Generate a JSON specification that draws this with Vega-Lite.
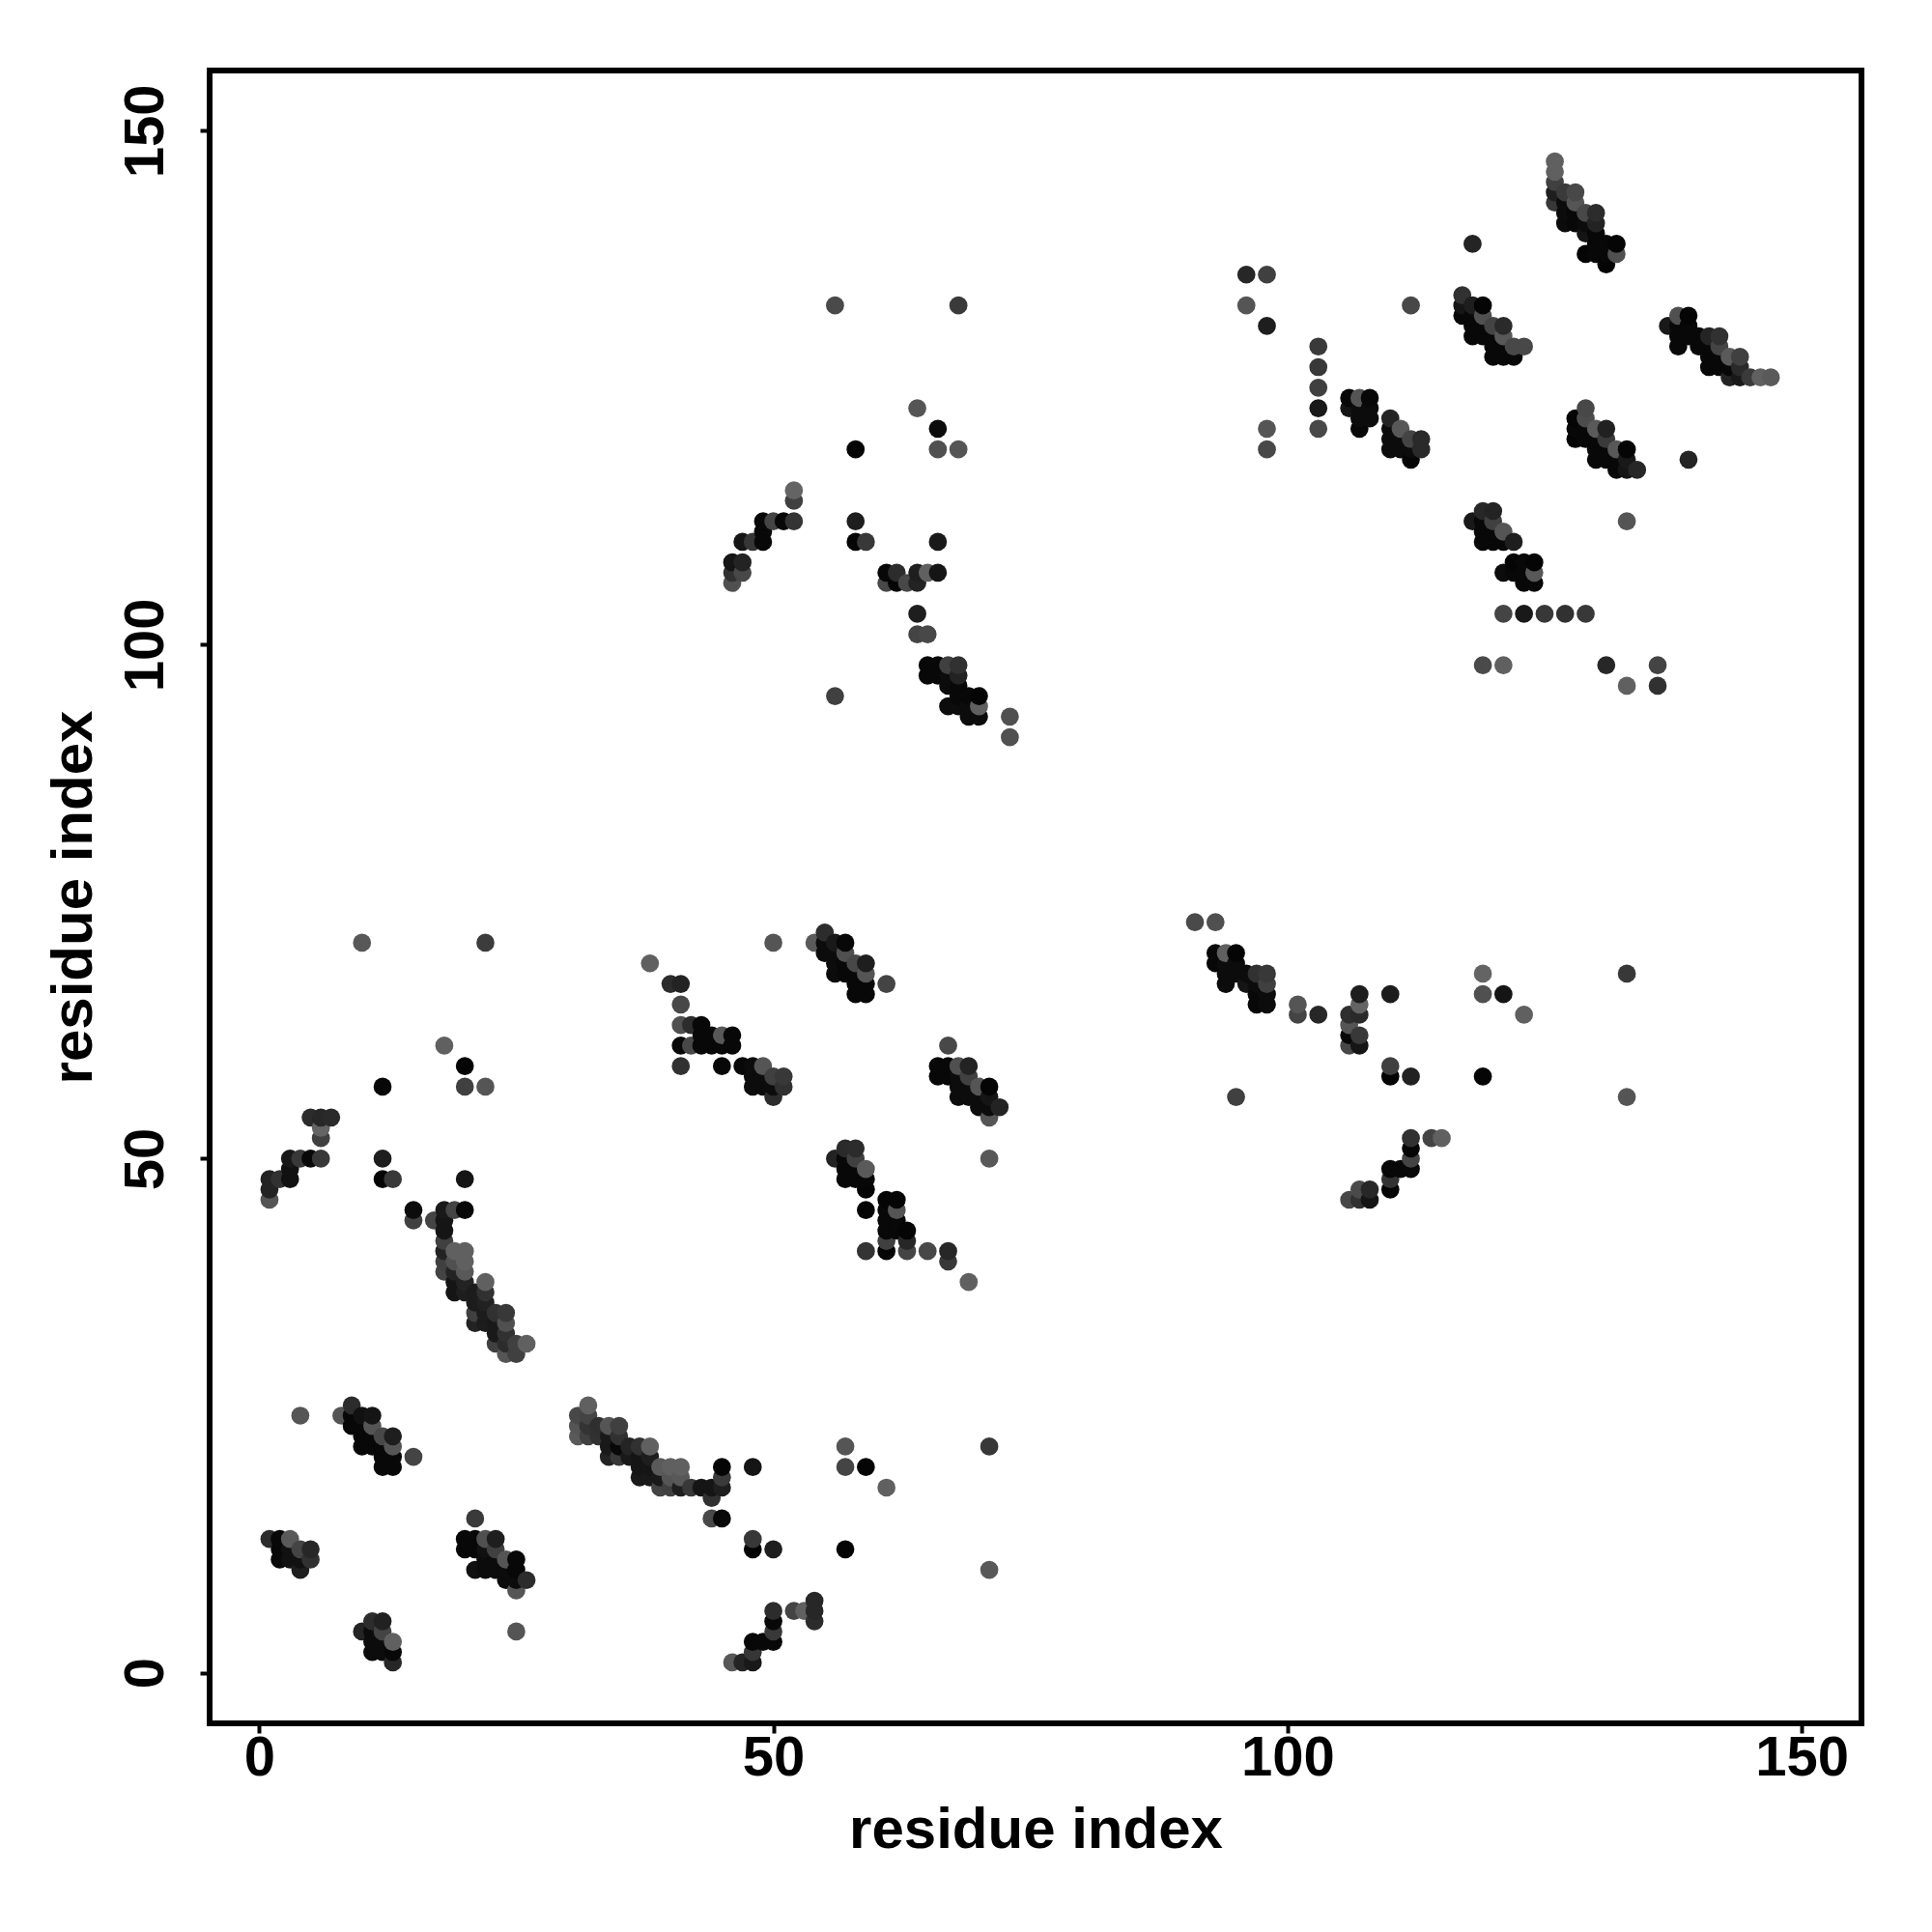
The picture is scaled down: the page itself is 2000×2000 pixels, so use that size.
{"$schema":"https://vega.github.io/schema/vega-lite/v6.json","width":1710,"height":1711,"autosize":{"type":"none"},"padding":{"left":217,"top":73,"right":73,"bottom":216},"background":"white","view":{"stroke":"#000000","strokeWidth":6,"fill":"white"},
"data":{"values":[
{"x":1,"y":13,"v":42},{"x":1,"y":46,"v":85},{"x":1,"y":47,"v":32},{"x":1,"y":48,"v":32},
{"x":2,"y":11,"v":5},{"x":2,"y":12,"v":5},{"x":2,"y":13,"v":5},{"x":2,"y":48,"v":48},
{"x":3,"y":11,"v":12},{"x":3,"y":12,"v":12},{"x":3,"y":13,"v":90},{"x":3,"y":48,"v":12},{"x":3,"y":49,"v":12},{"x":3,"y":50,"v":20},
{"x":4,"y":10,"v":26},{"x":4,"y":11,"v":12},{"x":4,"y":12,"v":68},{"x":4,"y":25,"v":85},{"x":4,"y":50,"v":56},
{"x":5,"y":11,"v":48},{"x":5,"y":12,"v":37},{"x":5,"y":50,"v":5},{"x":5,"y":54,"v":42},
{"x":6,"y":50,"v":56},{"x":6,"y":52,"v":64},{"x":6,"y":53,"v":100},{"x":6,"y":54,"v":37},
{"x":7,"y":54,"v":40},{"x":8,"y":25,"v":85},
{"x":9,"y":24,"v":5},{"x":9,"y":25,"v":5},{"x":9,"y":26,"v":42},
{"x":10,"y":4,"v":34},{"x":10,"y":22,"v":5},{"x":10,"y":23,"v":5},{"x":10,"y":24,"v":5},{"x":10,"y":25,"v":12},{"x":10,"y":71,"v":88},
{"x":11,"y":2,"v":8},{"x":11,"y":3,"v":8},{"x":11,"y":4,"v":8},{"x":11,"y":5,"v":42},{"x":11,"y":22,"v":5},{"x":11,"y":23,"v":5},{"x":11,"y":24,"v":85},{"x":11,"y":25,"v":16},
{"x":12,"y":2,"v":8},{"x":12,"y":3,"v":8},{"x":12,"y":4,"v":68},{"x":12,"y":5,"v":30},{"x":12,"y":20,"v":5},{"x":12,"y":21,"v":5},{"x":12,"y":22,"v":5},{"x":12,"y":23,"v":72},{"x":12,"y":48,"v":3},{"x":12,"y":50,"v":26},{"x":12,"y":57,"v":5},
{"x":13,"y":1,"v":37},{"x":13,"y":2,"v":5},{"x":13,"y":3,"v":96},{"x":13,"y":20,"v":5},{"x":13,"y":21,"v":5},{"x":13,"y":22,"v":85},{"x":13,"y":23,"v":26},{"x":13,"y":48,"v":56},
{"x":15,"y":21,"v":68},{"x":15,"y":44,"v":64},{"x":15,"y":45,"v":8},{"x":17,"y":44,"v":68},
{"x":18,"y":39,"v":68},{"x":18,"y":40,"v":64},{"x":18,"y":41,"v":32},{"x":18,"y":42,"v":64},{"x":18,"y":43,"v":16},{"x":18,"y":44,"v":16},{"x":18,"y":45,"v":21},{"x":18,"y":61,"v":96},
{"x":19,"y":37,"v":16},{"x":19,"y":38,"v":16},{"x":19,"y":39,"v":32},{"x":19,"y":40,"v":80},{"x":19,"y":41,"v":96},{"x":19,"y":45,"v":68},
{"x":20,"y":12,"v":5},{"x":20,"y":13,"v":5},{"x":20,"y":37,"v":26},{"x":20,"y":38,"v":32},{"x":20,"y":39,"v":88},{"x":20,"y":40,"v":96},{"x":20,"y":41,"v":96},{"x":20,"y":45,"v":5},{"x":20,"y":48,"v":16},{"x":20,"y":57,"v":64},{"x":20,"y":59,"v":3},
{"x":21,"y":10,"v":12},{"x":21,"y":12,"v":5},{"x":21,"y":13,"v":5},{"x":21,"y":15,"v":58},{"x":21,"y":34,"v":32},{"x":21,"y":35,"v":64},{"x":21,"y":36,"v":24},{"x":21,"y":37,"v":24},
{"x":22,"y":10,"v":8},{"x":22,"y":11,"v":8},{"x":22,"y":12,"v":12},{"x":22,"y":13,"v":80},{"x":22,"y":34,"v":24},{"x":22,"y":35,"v":24},{"x":22,"y":36,"v":30},{"x":22,"y":37,"v":48},{"x":22,"y":38,"v":96},{"x":22,"y":57,"v":85},{"x":22,"y":71,"v":60},
{"x":23,"y":10,"v":8},{"x":23,"y":11,"v":8},{"x":23,"y":12,"v":64},{"x":23,"y":13,"v":26},{"x":23,"y":32,"v":64},{"x":23,"y":33,"v":21},{"x":23,"y":34,"v":21},{"x":23,"y":35,"v":48},
{"x":24,"y":9,"v":8},{"x":24,"y":10,"v":8},{"x":24,"y":11,"v":85},{"x":24,"y":31,"v":85},{"x":24,"y":32,"v":42},{"x":24,"y":33,"v":48},{"x":24,"y":34,"v":80},{"x":24,"y":35,"v":56},
{"x":25,"y":4,"v":85},{"x":25,"y":8,"v":85},{"x":25,"y":9,"v":8},{"x":25,"y":10,"v":5},{"x":25,"y":11,"v":5},{"x":25,"y":31,"v":64},{"x":25,"y":32,"v":64},
{"x":26,"y":9,"v":42},{"x":26,"y":32,"v":96},
{"x":31,"y":23,"v":90},{"x":31,"y":24,"v":85},{"x":31,"y":25,"v":72},
{"x":32,"y":23,"v":64},{"x":32,"y":24,"v":51},{"x":32,"y":25,"v":68},{"x":32,"y":26,"v":96},
{"x":33,"y":23,"v":48},{"x":33,"y":24,"v":46},
{"x":34,"y":21,"v":32},{"x":34,"y":22,"v":21},{"x":34,"y":23,"v":21},{"x":34,"y":24,"v":85},
{"x":35,"y":21,"v":56},{"x":35,"y":22,"v":5},{"x":35,"y":23,"v":48},{"x":35,"y":24,"v":64},
{"x":36,"y":21,"v":21},{"x":36,"y":22,"v":34},
{"x":37,"y":19,"v":21},{"x":37,"y":20,"v":16},{"x":37,"y":21,"v":16},{"x":37,"y":22,"v":48},
{"x":38,"y":19,"v":21},{"x":38,"y":20,"v":16},{"x":38,"y":21,"v":26},{"x":38,"y":22,"v":96},{"x":38,"y":69,"v":96},
{"x":39,"y":18,"v":68},{"x":39,"y":19,"v":21},{"x":39,"y":20,"v":90},
{"x":40,"y":18,"v":64},{"x":40,"y":19,"v":85},{"x":40,"y":20,"v":96},{"x":40,"y":67,"v":42},
{"x":41,"y":18,"v":26},{"x":41,"y":19,"v":88},{"x":41,"y":20,"v":96},{"x":41,"y":59,"v":48},{"x":41,"y":61,"v":5},{"x":41,"y":63,"v":80},{"x":41,"y":65,"v":72},{"x":41,"y":67,"v":32},
{"x":42,"y":18,"v":56},{"x":42,"y":61,"v":72},{"x":42,"y":63,"v":42},
{"x":43,"y":18,"v":16},{"x":43,"y":61,"v":5},{"x":43,"y":62,"v":5},{"x":43,"y":63,"v":5},
{"x":44,"y":15,"v":72},{"x":44,"y":17,"v":48},{"x":44,"y":18,"v":16},{"x":44,"y":61,"v":5},{"x":44,"y":62,"v":5},
{"x":45,"y":15,"v":5},{"x":45,"y":18,"v":26},{"x":45,"y":19,"v":58},{"x":45,"y":20,"v":3},{"x":45,"y":59,"v":5},{"x":45,"y":61,"v":5},{"x":45,"y":62,"v":88},
{"x":46,"y":1,"v":88},{"x":46,"y":61,"v":5},{"x":46,"y":62,"v":5},{"x":46,"y":106,"v":80},{"x":46,"y":107,"v":48},{"x":46,"y":108,"v":16},
{"x":47,"y":1,"v":34},{"x":47,"y":59,"v":5},{"x":47,"y":107,"v":72},{"x":47,"y":108,"v":32},{"x":47,"y":110,"v":16},
{"x":48,"y":1,"v":21},{"x":48,"y":2,"v":53},{"x":48,"y":3,"v":5},{"x":48,"y":12,"v":3},{"x":48,"y":13,"v":56},{"x":48,"y":20,"v":16},{"x":48,"y":57,"v":8},{"x":48,"y":58,"v":8},{"x":48,"y":59,"v":8},{"x":48,"y":110,"v":53},
{"x":49,"y":3,"v":5},{"x":49,"y":57,"v":8},{"x":49,"y":58,"v":8},{"x":49,"y":59,"v":85},{"x":49,"y":110,"v":5},{"x":49,"y":111,"v":5},{"x":49,"y":112,"v":5},
{"x":50,"y":3,"v":5},{"x":50,"y":4,"v":56},{"x":50,"y":5,"v":5},{"x":50,"y":6,"v":42},{"x":50,"y":12,"v":26},{"x":50,"y":56,"v":42},{"x":50,"y":57,"v":8},{"x":50,"y":58,"v":64},{"x":50,"y":71,"v":85},{"x":50,"y":112,"v":68},
{"x":51,"y":57,"v":48},{"x":51,"y":58,"v":56},{"x":51,"y":112,"v":5},
{"x":52,"y":6,"v":68},{"x":52,"y":112,"v":51},{"x":52,"y":114,"v":64},{"x":52,"y":115,"v":100},
{"x":53,"y":6,"v":96},
{"x":54,"y":5,"v":42},{"x":54,"y":6,"v":37},{"x":54,"y":7,"v":37},{"x":54,"y":71,"v":90},
{"x":55,"y":70,"v":8},{"x":55,"y":71,"v":8},{"x":55,"y":72,"v":42},
{"x":56,"y":50,"v":32},{"x":56,"y":68,"v":8},{"x":56,"y":69,"v":8},{"x":56,"y":70,"v":8},{"x":56,"y":71,"v":21},{"x":56,"y":95,"v":64},{"x":56,"y":133,"v":74},
{"x":57,"y":12,"v":3},{"x":57,"y":20,"v":68},{"x":57,"y":22,"v":85},{"x":57,"y":48,"v":5},{"x":57,"y":49,"v":5},{"x":57,"y":50,"v":5},{"x":57,"y":51,"v":40},{"x":57,"y":68,"v":5},{"x":57,"y":69,"v":5},{"x":57,"y":70,"v":80},{"x":57,"y":71,"v":5},
{"x":58,"y":48,"v":5},{"x":58,"y":49,"v":5},{"x":58,"y":50,"v":64},{"x":58,"y":51,"v":42},{"x":58,"y":66,"v":5},{"x":58,"y":67,"v":5},{"x":58,"y":68,"v":5},{"x":58,"y":69,"v":72},{"x":58,"y":110,"v":3},{"x":58,"y":112,"v":26},{"x":58,"y":119,"v":3},
{"x":59,"y":20,"v":3},{"x":59,"y":41,"v":51},{"x":59,"y":45,"v":3},{"x":59,"y":47,"v":3},{"x":59,"y":48,"v":5},{"x":59,"y":49,"v":90},{"x":59,"y":66,"v":5},{"x":59,"y":67,"v":5},{"x":59,"y":68,"v":85},{"x":59,"y":69,"v":26},{"x":59,"y":110,"v":56},
{"x":61,"y":18,"v":96},{"x":61,"y":41,"v":3},{"x":61,"y":42,"v":64},{"x":61,"y":43,"v":5},{"x":61,"y":44,"v":5},{"x":61,"y":45,"v":5},{"x":61,"y":46,"v":3},{"x":61,"y":67,"v":68},{"x":61,"y":106,"v":72},{"x":61,"y":107,"v":5},
{"x":62,"y":43,"v":5},{"x":62,"y":44,"v":5},{"x":62,"y":45,"v":85},{"x":62,"y":46,"v":3},{"x":62,"y":106,"v":3},{"x":62,"y":107,"v":42},
{"x":63,"y":41,"v":68},{"x":63,"y":42,"v":37},{"x":63,"y":43,"v":3},{"x":63,"y":106,"v":72},
{"x":64,"y":101,"v":68},{"x":64,"y":103,"v":26},{"x":64,"y":106,"v":32},{"x":64,"y":107,"v":26},{"x":64,"y":123,"v":85},
{"x":65,"y":41,"v":72},{"x":65,"y":97,"v":5},{"x":65,"y":98,"v":5},{"x":65,"y":101,"v":72},{"x":65,"y":107,"v":96},
{"x":66,"y":58,"v":5},{"x":66,"y":59,"v":5},{"x":66,"y":97,"v":5},{"x":66,"y":98,"v":5},{"x":66,"y":107,"v":16},{"x":66,"y":110,"v":21},{"x":66,"y":119,"v":80},{"x":66,"y":121,"v":8},
{"x":67,"y":40,"v":56},{"x":67,"y":41,"v":37},{"x":67,"y":58,"v":5},{"x":67,"y":59,"v":5},{"x":67,"y":61,"v":72},{"x":67,"y":94,"v":8},{"x":67,"y":96,"v":8},{"x":67,"y":97,"v":8},{"x":67,"y":98,"v":64},
{"x":68,"y":56,"v":8},{"x":68,"y":57,"v":8},{"x":68,"y":58,"v":8},{"x":68,"y":59,"v":80},{"x":68,"y":94,"v":8},{"x":68,"y":95,"v":5},{"x":68,"y":96,"v":5},{"x":68,"y":97,"v":32},{"x":68,"y":98,"v":48},{"x":68,"y":119,"v":85},{"x":68,"y":133,"v":58},
{"x":69,"y":38,"v":96},{"x":69,"y":56,"v":8},{"x":69,"y":57,"v":8},{"x":69,"y":58,"v":64},{"x":69,"y":59,"v":32},{"x":69,"y":93,"v":8},{"x":69,"y":94,"v":8},{"x":69,"y":95,"v":5},
{"x":70,"y":55,"v":8},{"x":70,"y":56,"v":8},{"x":70,"y":57,"v":85},{"x":70,"y":93,"v":8},{"x":70,"y":94,"v":96},{"x":70,"y":95,"v":3},
{"x":71,"y":10,"v":88},{"x":71,"y":22,"v":56},{"x":71,"y":50,"v":88},{"x":71,"y":54,"v":85},{"x":71,"y":55,"v":8},{"x":71,"y":56,"v":16},{"x":71,"y":57,"v":3},
{"x":72,"y":55,"v":32},{"x":73,"y":91,"v":80},{"x":73,"y":93,"v":80},
{"x":91,"y":73,"v":74},
{"x":93,"y":69,"v":5},{"x":93,"y":70,"v":5},{"x":93,"y":73,"v":80},
{"x":94,"y":67,"v":8},{"x":94,"y":68,"v":8},{"x":94,"y":69,"v":8},{"x":94,"y":70,"v":96},
{"x":95,"y":56,"v":64},{"x":95,"y":68,"v":8},{"x":95,"y":69,"v":8},{"x":95,"y":70,"v":3},
{"x":96,"y":67,"v":16},{"x":96,"y":68,"v":8},{"x":96,"y":133,"v":85},{"x":96,"y":136,"v":37},
{"x":97,"y":65,"v":5},{"x":97,"y":66,"v":5},{"x":97,"y":67,"v":8},{"x":97,"y":68,"v":48},
{"x":98,"y":65,"v":8},{"x":98,"y":66,"v":8},{"x":98,"y":67,"v":64},{"x":98,"y":68,"v":56},{"x":98,"y":119,"v":72},{"x":98,"y":121,"v":85},{"x":98,"y":131,"v":26},{"x":98,"y":136,"v":64},
{"x":101,"y":64,"v":68},{"x":101,"y":65,"v":85},
{"x":103,"y":64,"v":37},{"x":103,"y":121,"v":72},{"x":103,"y":123,"v":21},{"x":103,"y":125,"v":64},{"x":103,"y":127,"v":56},{"x":103,"y":129,"v":58},
{"x":106,"y":46,"v":72},{"x":106,"y":61,"v":72},{"x":106,"y":62,"v":5},{"x":106,"y":63,"v":85},{"x":106,"y":64,"v":46},{"x":106,"y":123,"v":16},{"x":106,"y":124,"v":5},
{"x":107,"y":46,"v":48},{"x":107,"y":47,"v":74},{"x":107,"y":61,"v":16},{"x":107,"y":62,"v":56},{"x":107,"y":64,"v":40},{"x":107,"y":65,"v":100},{"x":107,"y":66,"v":26},{"x":107,"y":121,"v":5},{"x":107,"y":122,"v":8},{"x":107,"y":123,"v":8},{"x":107,"y":124,"v":85},
{"x":108,"y":46,"v":16},{"x":108,"y":47,"v":37},{"x":108,"y":122,"v":8},{"x":108,"y":123,"v":8},{"x":108,"y":124,"v":5},
{"x":110,"y":47,"v":3},{"x":110,"y":48,"v":51},{"x":110,"y":49,"v":5},{"x":110,"y":58,"v":3},{"x":110,"y":59,"v":64},{"x":110,"y":66,"v":24},{"x":110,"y":119,"v":8},{"x":110,"y":120,"v":8},{"x":110,"y":121,"v":8},{"x":110,"y":122,"v":34},
{"x":111,"y":49,"v":5},{"x":111,"y":119,"v":8},{"x":111,"y":120,"v":8},{"x":111,"y":121,"v":88},
{"x":112,"y":49,"v":5},{"x":112,"y":50,"v":68},{"x":112,"y":51,"v":3},{"x":112,"y":52,"v":48},{"x":112,"y":58,"v":30},{"x":112,"y":118,"v":3},{"x":112,"y":119,"v":8},{"x":112,"y":120,"v":68},{"x":112,"y":133,"v":72},
{"x":113,"y":119,"v":40},{"x":113,"y":120,"v":40},{"x":114,"y":52,"v":68},{"x":115,"y":52,"v":96},
{"x":117,"y":132,"v":5},{"x":117,"y":133,"v":16},{"x":117,"y":134,"v":48},
{"x":118,"y":112,"v":21},{"x":118,"y":130,"v":5},{"x":118,"y":131,"v":5},{"x":118,"y":132,"v":5},{"x":118,"y":133,"v":26},{"x":118,"y":139,"v":34},
{"x":119,"y":58,"v":3},{"x":119,"y":66,"v":80},{"x":119,"y":68,"v":100},{"x":119,"y":98,"v":74},{"x":119,"y":110,"v":5},{"x":119,"y":111,"v":5},{"x":119,"y":112,"v":5},{"x":119,"y":113,"v":37},{"x":119,"y":130,"v":5},{"x":119,"y":131,"v":5},{"x":119,"y":132,"v":80},{"x":119,"y":133,"v":3},
{"x":120,"y":110,"v":5},{"x":120,"y":111,"v":5},{"x":120,"y":112,"v":64},{"x":120,"y":113,"v":32},{"x":120,"y":128,"v":5},{"x":120,"y":129,"v":5},{"x":120,"y":130,"v":5},{"x":120,"y":131,"v":68},
{"x":121,"y":66,"v":16},{"x":121,"y":98,"v":96},{"x":121,"y":103,"v":68},{"x":121,"y":107,"v":8},{"x":121,"y":110,"v":5},{"x":121,"y":111,"v":85},{"x":121,"y":128,"v":5},{"x":121,"y":129,"v":5},{"x":121,"y":130,"v":88},{"x":121,"y":131,"v":40},
{"x":122,"y":107,"v":5},{"x":122,"y":108,"v":3},{"x":122,"y":110,"v":26},{"x":122,"y":128,"v":5},{"x":122,"y":129,"v":72},
{"x":123,"y":64,"v":96},{"x":123,"y":103,"v":21},{"x":123,"y":106,"v":5},{"x":123,"y":107,"v":5},{"x":123,"y":108,"v":5},{"x":123,"y":129,"v":72},
{"x":124,"y":106,"v":5},{"x":124,"y":107,"v":88},{"x":124,"y":108,"v":3},
{"x":125,"y":103,"v":56},
{"x":126,"y":143,"v":56},{"x":126,"y":144,"v":26},{"x":126,"y":145,"v":64},{"x":126,"y":146,"v":96},{"x":126,"y":147,"v":96},
{"x":127,"y":103,"v":48},{"x":127,"y":141,"v":8},{"x":127,"y":142,"v":8},{"x":127,"y":143,"v":8},{"x":127,"y":144,"v":58},
{"x":128,"y":120,"v":3},{"x":128,"y":121,"v":5},{"x":128,"y":122,"v":3},{"x":128,"y":141,"v":5},{"x":128,"y":142,"v":5},{"x":128,"y":143,"v":85},{"x":128,"y":144,"v":72},
{"x":129,"y":103,"v":56},{"x":129,"y":120,"v":5},{"x":129,"y":121,"v":5},{"x":129,"y":122,"v":76},{"x":129,"y":123,"v":72},{"x":129,"y":138,"v":3},{"x":129,"y":140,"v":16},{"x":129,"y":141,"v":8},{"x":129,"y":142,"v":72},
{"x":130,"y":118,"v":5},{"x":130,"y":119,"v":5},{"x":130,"y":120,"v":5},{"x":130,"y":121,"v":90},{"x":130,"y":138,"v":5},{"x":130,"y":139,"v":5},{"x":130,"y":140,"v":5},{"x":130,"y":141,"v":32},{"x":130,"y":142,"v":42},
{"x":131,"y":98,"v":37},{"x":131,"y":118,"v":5},{"x":131,"y":119,"v":5},{"x":131,"y":120,"v":58},{"x":131,"y":121,"v":30},{"x":131,"y":137,"v":3},{"x":131,"y":138,"v":5},{"x":131,"y":139,"v":5},
{"x":132,"y":117,"v":5},{"x":132,"y":118,"v":5},{"x":132,"y":119,"v":88},{"x":132,"y":138,"v":80},{"x":132,"y":139,"v":3},
{"x":133,"y":56,"v":85},{"x":133,"y":68,"v":56},{"x":133,"y":96,"v":96},{"x":133,"y":112,"v":85},{"x":133,"y":117,"v":16},{"x":133,"y":118,"v":21},{"x":133,"y":119,"v":3},
{"x":134,"y":117,"v":37},
{"x":136,"y":96,"v":48},{"x":136,"y":98,"v":68},
{"x":137,"y":131,"v":21},
{"x":138,"y":129,"v":5},{"x":138,"y":130,"v":5},{"x":138,"y":131,"v":5},{"x":138,"y":132,"v":80},
{"x":139,"y":118,"v":34},{"x":139,"y":130,"v":5},{"x":139,"y":131,"v":5},{"x":139,"y":132,"v":3},
{"x":140,"y":129,"v":5},{"x":140,"y":130,"v":5},
{"x":141,"y":127,"v":5},{"x":141,"y":128,"v":5},{"x":141,"y":129,"v":5},{"x":141,"y":130,"v":34},
{"x":142,"y":127,"v":5},{"x":142,"y":128,"v":5},{"x":142,"y":129,"v":68},{"x":142,"y":130,"v":48},
{"x":143,"y":126,"v":32},{"x":143,"y":127,"v":5},{"x":143,"y":128,"v":90},
{"x":144,"y":126,"v":21},{"x":144,"y":127,"v":40},{"x":144,"y":128,"v":64},
{"x":145,"y":126,"v":58},{"x":146,"y":126,"v":96},{"x":147,"y":126,"v":90}
]},
"mark":{"type":"circle","size":350,"opacity":1,"strokeWidth":0},
"encoding":{
"x":{"field":"x","type":"quantitative","scale":{"domain":[-4.82,155.82],"nice":false,"zero":false},"axis":{"values":[0,50,100,150],"title":"residue index","grid":false,"domain":false,"tickSize":10,"tickWidth":4,"tickColor":"#000000","labelFont":"Liberation Sans","labelFontWeight":"bold","labelFontSize":58,"labelColor":"#000000","labelPadding":-3,"labelFlush":false,"labelOverlap":false,"titleFont":"Liberation Sans","titleFontWeight":"bold","titleFontSize":60,"titleColor":"#000000","titlePadding":16}},
"y":{"field":"y","type":"quantitative","scale":{"domain":[-4.93,155.85],"nice":false,"zero":false},"axis":{"values":[0,50,100,150],"title":"residue index","grid":false,"domain":false,"tickSize":10,"tickWidth":4,"tickColor":"#000000","labelAngle":-90,"labelAlign":"center","labelBaseline":"bottom","labelFont":"Liberation Sans","labelFontWeight":"bold","labelFontSize":58,"labelColor":"#000000","labelPadding":27,"labelFlush":false,"labelOverlap":false,"titleFont":"Liberation Sans","titleFontWeight":"bold","titleFontSize":60,"titleColor":"#000000","titlePadding":15}},
"color":{"field":"v","type":"quantitative","scale":{"domain":[0,100],"range":["#000000","#646464"]},"legend":null}
}}
